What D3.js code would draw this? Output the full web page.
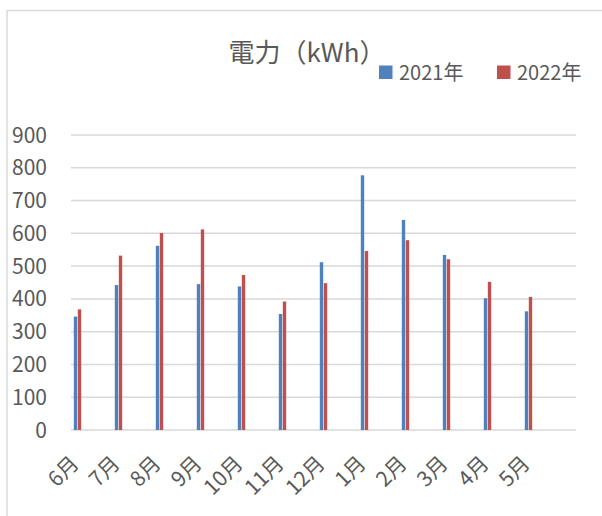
<!doctype html>
<html lang="ja">
<head>
  <meta charset="utf-8">
  <title>電力（kWh）</title>
  <script src="https://cdn.jsdelivr.net/npm/d3@7"></script>
  <style type="text/css">
    body { margin: 0; background: #fff; font-family: "Noto Sans CJK JP", "Noto Sans", sans-serif; }
    .grid line { stroke: #d9d9d9; stroke-width: 1.5px; }
    .label { fill: #595959; }
  </style>
</head>
<body>
  <div id="container"></div>
<script type="text/javascript">

  // Chart data
  var months = ["6月", "7月", "8月", "9月", "10月", "11月", "12月", "1月", "2月", "3月", "4月", "5月"];
  var series = ["2021年", "2022年"];
  var values2021 = [346, 442, 562, 445, 438, 354, 512, 777, 641, 534, 402, 362];
  var values2022 = [368, 532, 601, 612, 473, 392, 448, 546, 579, 521, 452, 406];
  var yTicks = [0, 100, 200, 300, 400, 500, 600, 700, 800, 900];
  var colors = ["#4f81bd", "#c0504d"];

  var width = 602, height = 516;

  var svg = d3.select("#container")
    .append("svg")
    .attr("width", width)
    .attr("height", height);

  // Chart area border (left and top only are visible)
  svg.append("line")
    .attr("x1", 7).attr("y1", 10.5).attr("x2", width).attr("y2", 10.5)
    .attr("stroke", "#d9d9d9").attr("stroke-width", 1.5);
  svg.append("line")
    .attr("x1", 7).attr("y1", 10.5).attr("x2", 7).attr("y2", height)
    .attr("stroke", "#d9d9d9").attr("stroke-width", 1.5);

  // Scales
  var yScale = d3.scaleLinear()
    .domain([0, 900])
    .range([430, 135]);
  var xScale = d3.scaleBand()
    .domain(months)
    .range([57, 549]);
  var xSub = d3.scaleBand()
    .domain(series)
    .range([-3.7, 3.7])
    .paddingInner(0.15);

  // Gridlines
  svg.append("g")
    .attr("class", "grid")
    .selectAll("line")
    .data(yTicks)
    .enter()
    .append("line")
    .attr("x1", 71)
    .attr("x2", 576)
    .attr("y1", function(d) { return yScale(d); })
    .attr("y2", function(d) { return yScale(d); });

  // Y axis labels
  svg.append("g")
    .selectAll("text")
    .data(yTicks)
    .enter()
    .append("text")
    .attr("class", "label")
    .attr("x", 47)
    .attr("y", function(d) { return yScale(d); })
    .attr("dy", "0.36em")
    .attr("text-anchor", "end")
    .style("font-size", "21px")
    .text(function(d) { return d; });

  // Bars
  var data = [values2021, values2022];
  data.forEach(function(vals, s) {
    svg.append("g")
      .selectAll("rect")
      .data(vals)
      .enter()
      .append("rect")
      .attr("x", function(d, i) { return xScale(months[i]) + xScale.bandwidth() / 2 + xSub(series[s]); })
      .attr("width", xSub.bandwidth())
      .attr("y", function(d) { return yScale(d); })
      .attr("height", function(d) { return yScale(0) - yScale(d); })
      .attr("fill", colors[s]);
  });

  // X axis labels run along 45 degree paths, ending just right of each bar pair
  var defs = svg.append("defs");
  defs.selectAll("path")
    .data(months)
    .enter()
    .append("path")
    .attr("id", function(d, i) { return "xl" + i; })
    .attr("d", function(d) {
      var x = xScale(d) + xScale.bandwidth() / 2 + 2.5, y = 465;
      return "M" + (x - 60) + "," + (y + 60) + "L" + x + "," + y;
    });
  svg.append("g")
    .selectAll("text")
    .data(months)
    .enter()
    .append("text")
    .attr("class", "label")
    .style("font-size", "21px")
    .append("textPath")
    .attr("href", function(d, i) { return "#xl" + i; })
    .attr("startOffset", "100%")
    .attr("text-anchor", "end")
    .text(function(d) { return d; });

  // Title
  svg.append("text")
    .attr("class", "label")
    .attr("x", 307)
    .attr("y", 62)
    .attr("text-anchor", "middle")
    .style("font-size", "26px")
    .text("電力（kWh）");

  // Legend
  var legendX = [379, 497];
  series.forEach(function(name, s) {
    svg.append("rect")
      .attr("x", legendX[s])
      .attr("y", 65.5)
      .attr("width", 13.5)
      .attr("height", 13.5)
      .attr("fill", colors[s]);
    svg.append("text")
      .attr("class", "label")
      .attr("x", legendX[s] + 20)
      .attr("y", 80)
      .style("font-size", "20px")
      .text(name);
  });

</script>
</body>
</html>
